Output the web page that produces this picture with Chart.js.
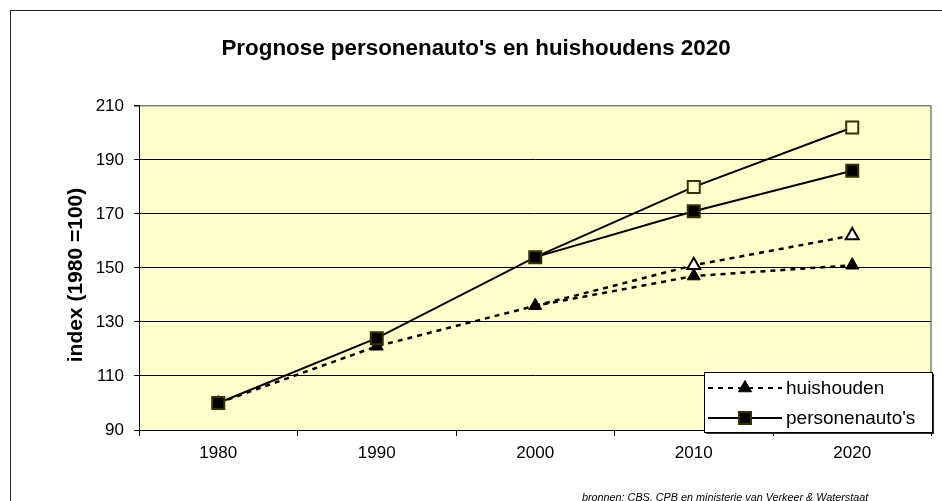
<!DOCTYPE html>
<html>
<head>
<meta charset="utf-8">
<title>Prognose personenauto's en huishoudens 2020</title>
<script src="https://cdn.jsdelivr.net/npm/chart.js@4.4.1/dist/chart.umd.min.js"></script>
<style>
  html, body { margin: 0; padding: 0; background: #fff; }
  #wrap { width: 942px; height: 501px; }
</style>
</head>
<body>
<div id="wrap"><canvas id="prognoseChart" width="942" height="501"></canvas></div>
<script>
// data
const jaren = ["1980", "1990", "2000", "2010", "2020"];
const autos = [100, 124, 154, 171, 186];
const autosHoog = [null, null, 154, 180, 202];
const huishoudens = [100, 121, 136, 147, 151];
const huishoudensHoog = [null, null, 136, 151, 162];
const yTicks = [90, 110, 130, 150, 170, 190, 210];

const FONT = "'Liberation Sans', Arial, sans-serif";

// achtergrond, kaderlijnen, astitel, legenda en bronvermelding
const extras = {
  id: "extras",
  beforeDraw(chart) {
    const { ctx, chartArea: a } = chart;
    ctx.save();
    ctx.fillStyle = "#fff";
    ctx.fillRect(0, 0, chart.width, chart.height);
    ctx.strokeStyle = "#222";
    ctx.lineWidth = 1;
    ctx.strokeRect(10.5, 10.5, 1000, 1000);
    ctx.fillStyle = "#FFFFCC";
    ctx.fillRect(a.left, a.top, a.right - a.left, a.bottom - a.top);
    ctx.restore();
  },
  beforeDatasetsDraw(chart) {
    const { ctx, chartArea: a } = chart;
    ctx.save();
    ctx.strokeStyle = "#808080";
    ctx.lineWidth = 1.5;
    ctx.beginPath();
    ctx.moveTo(a.right - 0.5, a.top);
    ctx.lineTo(a.right - 0.5, a.bottom);
    ctx.stroke();
    ctx.restore();
  },
  afterDraw(chart) {
    const { ctx } = chart;
    const ds = chart.data.datasets;
    ctx.save();
    // y-astitel
    ctx.save();
    ctx.translate(76, 275);
    ctx.rotate(-Math.PI / 2);
    ctx.fillStyle = "#000";
    ctx.font = "bold 21px " + FONT;
    ctx.textAlign = "center";
    ctx.textBaseline = "middle";
    ctx.fillText("index (1980 =100)", 0, 0);
    ctx.restore();

    // legenda
    const lx = 704, ly = 372, lw = 228, lh = 60;
    ctx.fillStyle = "#333";
    ctx.fillRect(lx + 2, ly + 2, lw, lh);
    ctx.fillStyle = "#fff";
    ctx.fillRect(lx, ly, lw, lh);
    ctx.strokeStyle = "#000";
    ctx.lineWidth = 1;
    ctx.strokeRect(lx + 0.5, ly + 0.5, lw, lh);

    const rijen = [
      { set: ds[1], y: 388 },
      { set: ds[0], y: 418 }
    ];
    rijen.forEach((r) => {
      ctx.strokeStyle = "#000";
      ctx.lineWidth = 2;
      ctx.setLineDash(r.set.borderDash || []);
      ctx.beginPath();
      ctx.moveTo(708, r.y);
      ctx.lineTo(782, r.y);
      ctx.stroke();
      ctx.setLineDash([]);
      ctx.fillStyle = r.set.pointBackgroundColor;
      ctx.strokeStyle = r.set.pointBorderColor;
      ctx.lineWidth = r.set.pointBorderWidth;
      Chart.helpers.drawPoint(ctx, {
        pointStyle: r.set.pointStyle,
        radius: r.set.legendRadius,
        borderWidth: r.set.pointBorderWidth
      }, 745, r.y);
      ctx.fillStyle = "#000";
      ctx.font = "19px " + FONT;
      ctx.textAlign = "left";
      ctx.textBaseline = "middle";
      ctx.fillText(r.set.label, 786, r.y + 1);
    });

    // bronnen
    ctx.fillStyle = "#000";
    ctx.font = "italic 10.8px " + FONT;
    ctx.textAlign = "left";
    ctx.textBaseline = "alphabetic";
    ctx.fillText("bronnen: CBS, CPB en ministerie van Verkeer & Waterstaat", 582, 501);
    ctx.restore();
  }
};

const ctx = document.getElementById("prognoseChart").getContext("2d");
new Chart(ctx, {
  type: "line",
  data: {
    labels: jaren,
    datasets: [
      {
        label: "personenauto's",
        data: autos,
        borderColor: "#000",
        borderWidth: 2,
        pointStyle: "rect",
        pointRadius: 8.5,
        legendRadius: 8.5,
        pointBackgroundColor: "#000",
        pointBorderColor: "#333300",
        pointBorderWidth: 2
      },
      {
        label: "huishouden",
        data: huishoudens,
        borderColor: "#000",
        borderWidth: 2.5,
        borderDash: [5, 5],
        pointStyle: "triangle",
        pointRadius: 7.5,
        legendRadius: 7.5,
        pointBackgroundColor: "#000",
        pointBorderColor: "#000",
        pointBorderWidth: 1
      },
      {
        label: "personenauto's (prognose hoog)",
        data: autosHoog,
        borderColor: "#000",
        borderWidth: 2,
        pointStyle: "rect",
        pointRadius: [0, 0, 0, 8.5, 8.5],
        pointBackgroundColor: "#FFFFCC",
        pointBorderColor: "#333300",
        pointBorderWidth: 2
      },
      {
        label: "huishouden (prognose hoog)",
        data: huishoudensHoog,
        borderColor: "#000",
        borderWidth: 2.5,
        borderDash: [5, 5],
        pointStyle: "triangle",
        pointRadius: [0, 0, 0, 7.5, 7.5],
        pointBackgroundColor: "#fff",
        pointBorderColor: "#000",
        pointBorderWidth: 2
      }
    ]
  },
  options: {
    responsive: false,
    animation: false,
    layout: { padding: { left: 17, right: 7, top: 0, bottom: 0 } },
    plugins: {
      legend: { display: false },
      tooltip: { enabled: false },
      title: {
        display: true,
        text: "Prognose personenauto's en huishoudens 2020",
        color: "#000",
        font: { family: FONT, size: 22.4, weight: "bold" },
        padding: { top: 35, bottom: 44 }
      }
    },
    scales: {
      x: {
        offset: true,
        grid: { offset: true, drawOnChartArea: false, color: "#000", tickLength: 6, tickColor: "#000" },
        border: { color: "#000", width: 1 },
        ticks: { color: "#000", font: { family: FONT, size: 17 }, padding: 7, maxRotation: 0 },
        afterFit(scale) { scale.height = 71; }
      },
      y: {
        min: yTicks[0],
        max: yTicks[yTicks.length - 1],
        afterBuildTicks(scale) { scale.ticks = yTicks.map((v) => ({ value: v })); },
        grid: {
          color: (c) => (c.tick && c.tick.value === 210 ? "#808080" : "#000"),
          lineWidth: (c) => (c.tick && c.tick.value === 210 ? 1.5 : 1),
          tickLength: 5,
          tickColor: "#000"
        },
        border: { color: "#000", width: 1 },
        ticks: { color: "#000", font: { family: FONT, size: 17 }, padding: 10 },
        afterFit(scale) { scale.width = 122; }
      }
    }
  },
  plugins: [extras]
});
</script>
</body>
</html>
